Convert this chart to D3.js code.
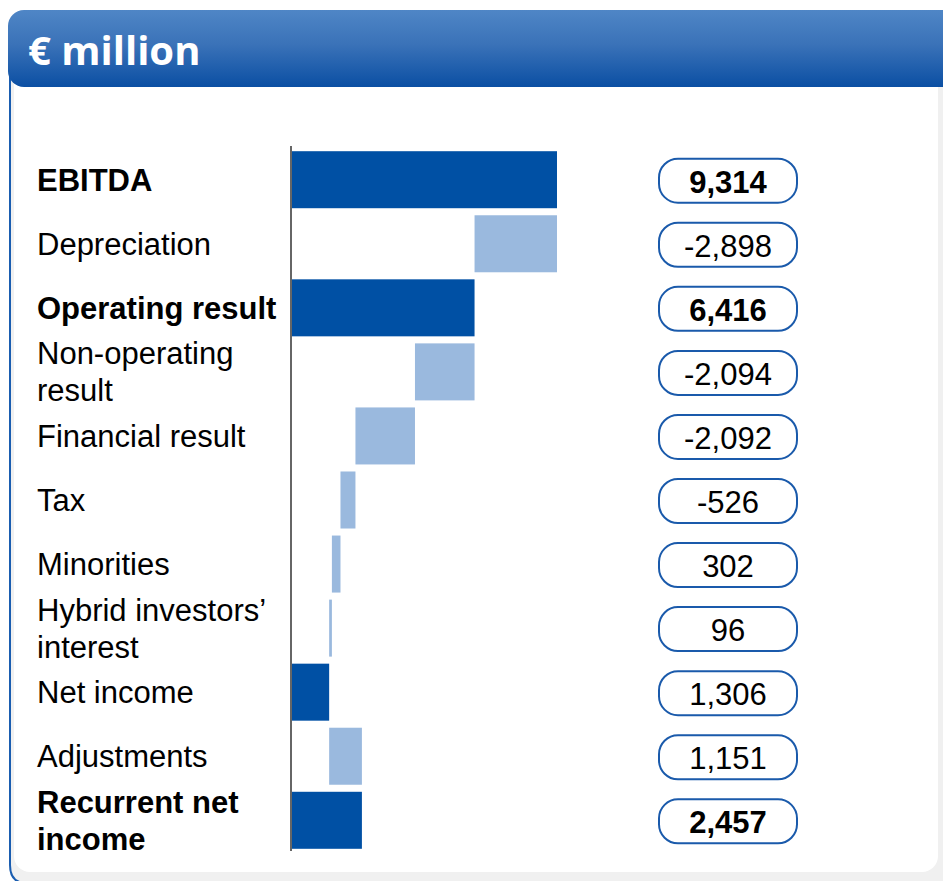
<!DOCTYPE html>
<html>
<head>
<meta charset="utf-8">
<script src="https://cdn.jsdelivr.net/npm/d3@7"></script>
<style>
  html, body { margin: 0; padding: 0; background: #ffffff; }
  svg { display: block; }
</style>
</head>
<body>
<svg id="chart" width="943" height="881"></svg>
<script>
// Waterfall: EBITDA down to recurrent net income (€ million)
const categories = [
  ["EBITDA"],
  ["Depreciation"],
  ["Operating result"],
  ["Non-operating", "result"],
  ["Financial result"],
  ["Tax"],
  ["Minorities"],
  ["Hybrid investors’", "interest"],
  ["Net income"],
  ["Adjustments"],
  ["Recurrent net", "income"]
];
// signed step values; totals are absolute levels
const values = [9314, -2898, 6416, -2094, -2092, -526, -302, -96, 1306, 1151, 2457];
const isTotal = [true, false, true, false, false, false, false, false, true, false, true];
const boldRow = [true, false, true, false, false, false, false, false, false, false, true];
const valueLabels = ["9,314", "-2,898", "6,416", "-2,094", "-2,092", "-526", "302", "96", "1,306", "1,151", "2,457"];

const svg = d3.select("#chart");
const W = 943, H = 881;

// frame
const defs = svg.append("defs");
const grad = defs.append("linearGradient").attr("id", "hdr").attr("x1", 0).attr("y1", 0).attr("x2", 0).attr("y2", 1);
grad.append("stop").attr("offset", "0%").attr("stop-color", "#4f86c6");
grad.append("stop").attr("offset", "45%").attr("stop-color", "#3a72b8");
grad.append("stop").attr("offset", "100%").attr("stop-color", "#0b4fa3");

svg.append("rect").attr("x", 0).attr("y", 0).attr("width", W).attr("height", H).attr("fill", "#ffffff");
// outer grey panel with blue left edge
svg.append("path")
  .attr("d", `M${W + 20},40 L10,40 L10,${H - 16} Q10,${H + 2} 26,${H + 2} L${W + 20},${H + 2} Z`)
  .attr("fill", "#f0f0f0").attr("stroke", "#1a5db0").attr("stroke-width", 2);
// inner white panel
svg.append("rect").attr("x", 14).attr("y", 60).attr("width", 924).attr("height", 812)
  .attr("rx", 16).attr("fill", "#ffffff");
// header band
svg.append("rect").attr("x", 8).attr("y", 10).attr("width", W + 30).attr("height", 77)
  .attr("rx", 16).attr("fill", "url(#hdr)");
svg.append("text").attr("x", 28).attr("y", 65)
  .attr("font-family", "'Open Sans', 'DejaVu Sans', sans-serif")
  .attr("font-weight", 700).attr("font-size", 40).attr("fill", "#ffffff")
  .text("€ million");

// layout
const y = d3.scaleBand().domain(d3.range(categories.length)).range([148, 852]).paddingInner(0.11).paddingOuter(0.05);
const x = d3.scaleLinear().domain([0, 9314]).range([292, 557]);

// compute bar extents
let level = 0;
const bars = values.map((v, i) => {
  let a, b;
  if (isTotal[i]) { a = 0; b = v; level = v; }
  else { a = level; b = level + v; level = b; }
  return { i, x0: Math.min(a, b), x1: Math.max(a, b), total: isTotal[i] };
});

const g = svg.append("g");
g.selectAll("rect.bar").data(bars).join("rect")
  .attr("class", "bar")
  .attr("x", d => x(d.x0))
  .attr("y", d => y(d.i))
  .attr("width", d => Math.max(1.5, x(d.x1) - x(d.x0)))
  .attr("height", y.bandwidth())
  .attr("fill", d => d.total ? "#0050a4" : "#9ab9de");

// axis line
svg.append("line").attr("x1", 291).attr("x2", 291).attr("y1", 146).attr("y2", 851)
  .attr("stroke", "#333333").attr("stroke-width", 1.5);

// category labels
const font = "'Liberation Sans', Arial, sans-serif";
const lab = svg.append("g");
categories.forEach((lines, i) => {
  const cy = y(i) + y.bandwidth() / 2;
  const lh = 37;
  const t = lab.append("text")
    .attr("font-family", font).attr("font-size", 31)
    .attr("font-weight", boldRow[i] ? 700 : 400)
    .attr("fill", "#000000");
  lines.forEach((ln, k) => {
    t.append("tspan").attr("x", 37)
      .attr("y", cy + 11 + (k - (lines.length - 1) / 2) * lh)
      .text(ln);
  });
});

// value boxes
const bx = svg.append("g");
valueLabels.forEach((s, i) => {
  const cy = y(i) + y.bandwidth() / 2 + 1;
  bx.append("rect").attr("x", 659).attr("y", cy - 22).attr("width", 138).attr("height", 44)
    .attr("rx", 19).attr("fill", "#ffffff").attr("stroke", "#1a5aab").attr("stroke-width", 2);
  bx.append("text").attr("x", 728).attr("y", cy + 12)
    .attr("text-anchor", "middle")
    .attr("font-family", font).attr("font-size", 31)
    .attr("font-weight", boldRow[i] ? 700 : 400)
    .attr("fill", "#000000").text(s);
});
</script>
</body>
</html>
